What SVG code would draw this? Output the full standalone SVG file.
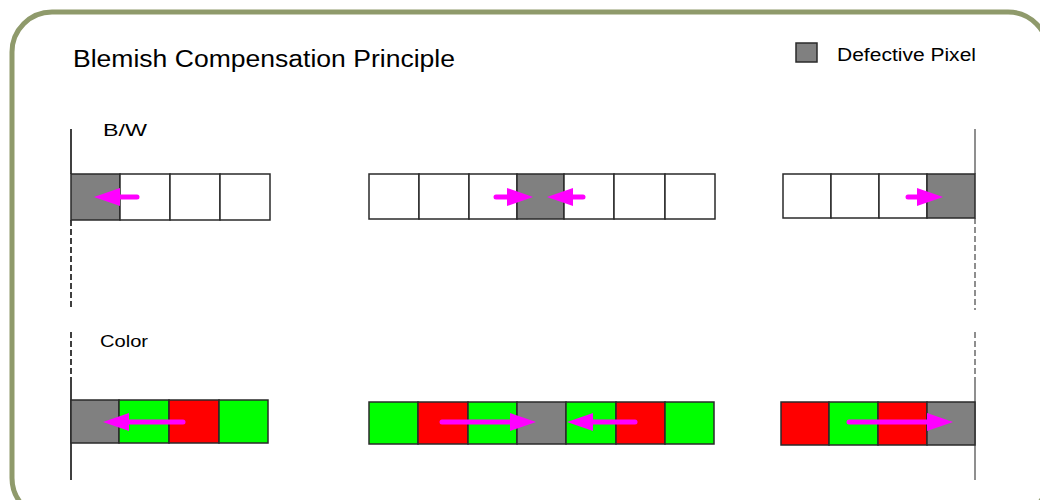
<svg xmlns="http://www.w3.org/2000/svg" width="1040" height="500" viewBox="0 0 1040 500">
  <style>
    .frame { fill: #ffffff; stroke: #8f9a6b; stroke-width: 5; }
    .txt { font-family: "Liberation Sans", Arial, sans-serif; fill: #000000; }
    .cell { stroke: #2a2a2a; stroke-width: 1.5; }
    .w { fill: #ffffff; }
    .d { fill: #808080; }
    .g { fill: #00ff00; }
    .r { fill: #ff0000; }
    .edge { fill: none; stroke-width: 1.5; }
    .dash { stroke-dasharray: 6 3; }
    .arrow { fill: none; stroke: #ff00ff; stroke-width: 5; stroke-linecap: round; marker-end: url(#head); }
  </style>
  <defs>
    <marker id="head" markerUnits="userSpaceOnUse" markerWidth="27" markerHeight="19" refX="0" refY="9" orient="auto">
      <path d="M0,0 L26,9 L0,18 Z" fill="#ff00ff"/>
    </marker>
  </defs>

  <!-- outer frame -->
  <rect class="frame" x="12" y="12" width="1036" height="506" rx="40" ry="40"/>

  <!-- title and legend -->
  <text id="title" class="txt" x="73" y="67" font-size="23" textLength="382" lengthAdjust="spacingAndGlyphs">Blemish Compensation Principle</text>
  <g id="legend">
    <rect class="cell d" x="796" y="43" width="21" height="19"/>
    <text class="txt" x="837" y="61" font-size="18" textLength="139" lengthAdjust="spacingAndGlyphs">Defective Pixel</text>
  </g>

  <!-- row labels -->
  <text id="label-bw" class="txt" x="103" y="136" font-size="16" textLength="44" lengthAdjust="spacingAndGlyphs">B/W</text>
  <text id="label-color" class="txt" x="100" y="347" font-size="16" textLength="48" lengthAdjust="spacingAndGlyphs">Color</text>

  <!-- sensor edge lines -->
  <g id="edges">
    <line class="edge" stroke="#000000" x1="71" y1="129" x2="71" y2="174"/>
    <line class="edge dash" stroke="#000000" x1="71" y1="220" x2="71" y2="310"/>
    <line class="edge dash" stroke="#000000" x1="71" y1="332" x2="71" y2="383"/>
    <line class="edge" stroke="#000000" x1="71" y1="383" x2="71" y2="480"/>
    <line class="edge" stroke="#6a6a6a" stroke-width="2" x1="975" y1="129" x2="975" y2="174"/>
    <line class="edge dash" stroke="#6a6a6a" stroke-width="2" x1="975" y1="218" x2="975" y2="310"/>
    <line class="edge dash" stroke="#6a6a6a" stroke-width="2" x1="975" y1="332" x2="975" y2="383"/>
    <line class="edge" stroke="#6a6a6a" stroke-width="2" x1="975" y1="383" x2="975" y2="480"/>
  </g>

  <!-- B/W rows -->
  <g id="bw-left">
    <rect class="cell d" x="71" y="174" width="49" height="46"/>
    <rect class="cell w" x="120" y="174" width="50" height="46"/>
    <rect class="cell w" x="170" y="174" width="50" height="46"/>
    <rect class="cell w" x="220" y="174" width="50" height="46"/>
  </g>
  <g id="bw-middle">
    <rect class="cell w" x="369" y="174" width="50" height="45"/>
    <rect class="cell w" x="419" y="174" width="50" height="45"/>
    <rect class="cell w" x="469" y="174" width="48" height="45"/>
    <rect class="cell d" x="517" y="174" width="47" height="45"/>
    <rect class="cell w" x="564" y="174" width="50" height="45"/>
    <rect class="cell w" x="614" y="174" width="51" height="45"/>
    <rect class="cell w" x="665" y="174" width="50" height="45"/>
  </g>
  <g id="bw-right">
    <rect class="cell w" x="783" y="174" width="48" height="44"/>
    <rect class="cell w" x="831" y="174" width="48" height="44"/>
    <rect class="cell w" x="879" y="174" width="48" height="44"/>
    <rect class="cell d" x="927" y="174" width="48" height="44"/>
  </g>

  <!-- Color rows -->
  <g id="color-left">
    <rect class="cell d" x="71" y="400" width="48" height="43"/>
    <rect class="cell g" x="119" y="400" width="50" height="43"/>
    <rect class="cell r" x="169" y="400" width="50" height="43"/>
    <rect class="cell g" x="219" y="400" width="49" height="43"/>
  </g>
  <g id="color-middle">
    <rect class="cell g" x="369" y="402" width="49" height="42"/>
    <rect class="cell r" x="418" y="402" width="50" height="42"/>
    <rect class="cell g" x="468" y="402" width="49" height="42"/>
    <rect class="cell d" x="517" y="402" width="49" height="42"/>
    <rect class="cell g" x="566" y="402" width="50" height="42"/>
    <rect class="cell r" x="616" y="402" width="49" height="42"/>
    <rect class="cell g" x="665" y="402" width="49" height="42"/>
  </g>
  <g id="color-right">
    <rect class="cell r" x="781" y="402" width="48" height="43"/>
    <rect class="cell g" x="829" y="402" width="49" height="43"/>
    <rect class="cell r" x="878" y="402" width="49" height="43"/>
    <rect class="cell d" x="927" y="402" width="48" height="43"/>
  </g>

  <!-- compensation arrows -->
  <g id="connectors">
    <line class="arrow" x1="137" y1="197" x2="120" y2="197"/>
    <line class="arrow" x1="496" y1="197" x2="507" y2="197"/>
    <line class="arrow" x1="583" y1="197" x2="573" y2="197"/>
    <line class="arrow" x1="908" y1="197" x2="917" y2="197"/>
    <line class="arrow" x1="183" y1="422" x2="129" y2="422"/>
    <line class="arrow" x1="442" y1="422" x2="510" y2="422"/>
    <line class="arrow" x1="635" y1="422" x2="593" y2="422"/>
    <line class="arrow" x1="849" y1="422" x2="927" y2="422"/>
  </g>
</svg>
